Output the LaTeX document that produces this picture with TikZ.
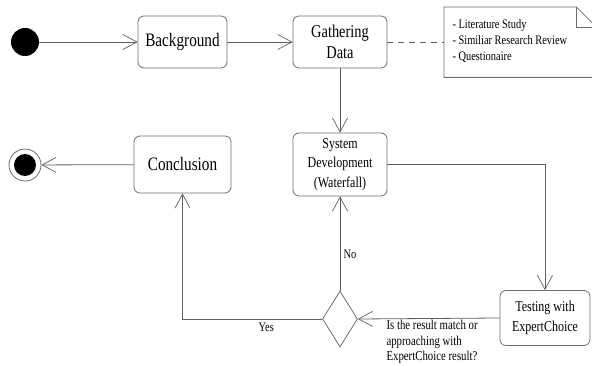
\documentclass[tikz,border=0pt]{standalone}
\usepackage{fontspec}
\setmainfont{Liberation Serif}[FakeStretch=0.8]
\usepackage{xcolor}
\usetikzlibrary{positioning,arrows.meta,shapes.geometric}
\definecolor{linegray}{RGB}{95,95,95}
\definecolor{boxgray}{RGB}{110,110,110}
\tikzset{
  statebox/.style={draw=boxgray, rounded corners=6pt, line width=0.8pt,
    align=center, inner sep=2pt},
  flow/.style={draw=linegray, line width=0.8pt,
    -{Straight Barb[length=14pt,width=15pt,line width=0.7pt]}},
  link/.style={draw=linegray, line width=0.8pt},
}
\begin{document}
\begin{tikzpicture}[x=1pt,y=-1pt]
  \useasboundingbox (0,0) rectangle (592,366);

  % Start and end points
  \node[circle, fill=black, minimum size=28pt, inner sep=0] (start) at (25,42) {};
  \node[circle, draw=boxgray, line width=0.8pt, minimum size=32pt, inner sep=0] (final) at (25,165) {};
  \fill (final.center) circle (11pt);

  % Activities
  \node[statebox, minimum width=89pt, minimum height=52pt, font=\fontsize{19}{21}\selectfont] (bg) at (182.5,42) {Background};
  \node[statebox, minimum width=94pt, minimum height=52pt, font=\fontsize{18}{21}\selectfont] (gather) at (340,42) {Gathering\\Data};
  \node[statebox, minimum width=94pt, minimum height=63pt, font=\fontsize{15}{19.5}\selectfont] (sysdev) at (340,164.5) {System\\Development\\(Waterfall)};
  \node[statebox, minimum width=97pt, minimum height=57pt, font=\fontsize{19}{21}\selectfont] (concl) at (182.5,164.5) {Conclusion};
  \node[statebox, minimum width=90pt, minimum height=55pt, font=\fontsize{15}{20}\selectfont] (test) at (545,318) {Testing with\\ExpertChoice};

  % Decision
  \node[diamond, draw=boxgray, line width=0.8pt, minimum width=35pt, minimum height=56pt, inner sep=0] (dec) at (340,319) {};
  \node[anchor=west, align=left, font=\fontsize{13.5}{15.5}\selectfont] (ask) at (383,342)
    {Is the result match or\\approaching with\\ExpertChoice result?};

  % Note
  \node[anchor=north west, minimum width=152pt, minimum height=70pt, inner sep=0] (note) at (444,7) {};
  \draw[boxgray, line width=0.8pt] (note.north west) -- ([xshift=-20pt]note.north east)
    -- ([yshift=-20pt]note.north east) -- (note.south east) -- (note.south west) -- cycle;
  \draw[boxgray, line width=0.8pt] ([xshift=-20pt]note.north east) -- ([xshift=-20pt,yshift=-20pt]note.north east)
    -- ([yshift=-20pt]note.north east);
  \node[anchor=west, align=left, font=\fontsize{13}{16}\selectfont] (notetext) at (449,41)
    {- Literature Study\\- Similiar Research Review\\- Questionaire};

  % Flow
  \draw[flow] (start) -- (bg);
  \draw[flow] (bg) -- (gather);
  \draw[link, dashed, dash pattern=on 6pt off 5pt] (gather) -- (note.west |- gather);
  \draw[flow] (gather) -- (sysdev);
  \draw[flow] (sysdev.east) -| (test.north);
  \draw[flow] (test.west) -- (dec.east);
  \draw[flow] (dec.north) -- node[pos=0.38, right, font=\fontsize{13}{15}\selectfont] {No} (sysdev.south);
  \draw[flow] (dec.west) -| node[pos=0.2, below, font=\fontsize{13}{15}\selectfont] {Yes} (concl.south);
  \draw[flow] (concl) -- (final);
\end{tikzpicture}
\end{document}
